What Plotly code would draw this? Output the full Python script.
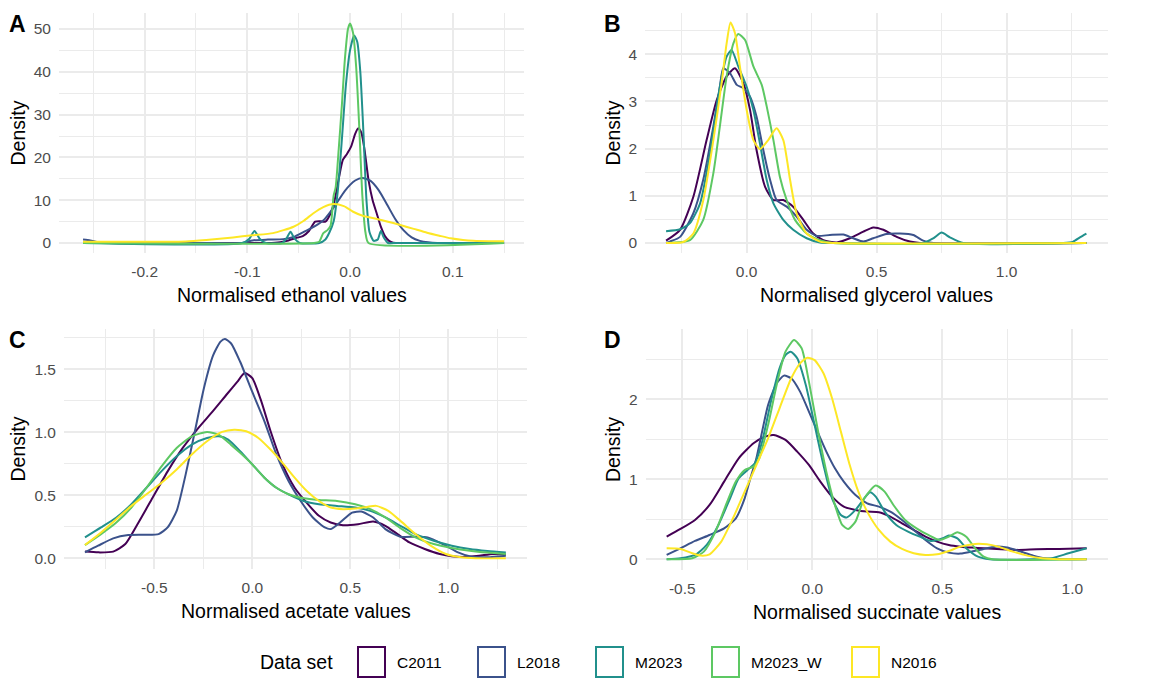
import plotly.graph_objects as go

W, H = 1176, 678
FONT = "Liberation Sans, Arial, Helvetica, sans-serif"

series_names = ["C2011", "L2018", "M2023", "M2023_W", "N2016"]
series_colors = ["#440154", "#3B528B", "#21908C", "#5DC863", "#FDE725"]

# ---------------- Panel A: ethanol ----------------
ethanol_C2011_x = [-0.26, -0.15, -0.08, -0.068, -0.06, -0.052, -0.046, -0.04, -0.034, -0.029, -0.024, -0.019, -0.015, -0.011, -0.007, -0.003, 0.001, 0.005, 0.008, 0.011, 0.014, 0.018, 0.022, 0.026, 0.030, 0.034, 0.038, 0.042, 0.06, 0.15]
ethanol_C2011_y = [0, 0, 0, 0.2, 0.6, 1.2, 1.6, 2.8, 5.0, 5.1, 5.0, 6.9, 10, 15, 19.4, 20.8, 22.5, 25.5, 26.8, 25.8, 22, 14.7, 10, 6.9, 3.8, 1.6, 0.5, 0.05, 0, 0]
ethanol_L2018_x = [-0.26, -0.253, -0.245, -0.235, -0.15, -0.105, -0.095, -0.08, -0.065, -0.055, -0.045, -0.035, -0.025, -0.015, -0.005, 0.005, 0.012, 0.02, 0.028, 0.036, 0.044, 0.052, 0.06, 0.068, 0.076, 0.085, 0.1, 0.15]
ethanol_L2018_y = [0.8, 0.6, 0.2, 0, 0, 0, 0.6, 0.8, 0.9, 1.4, 2.6, 3.8, 5.5, 8.6, 12.2, 14.6, 15.2, 14.5, 12.3, 9.0, 5.6, 3.0, 1.3, 0.5, 0.15, 0, 0, 0]
ethanol_M2023_x = [-0.26, -0.105, -0.098, -0.093, -0.088, -0.082, -0.066, -0.062, -0.058, -0.054, -0.049, -0.03, -0.024, -0.02, -0.016, -0.012, -0.008, -0.004, 0.0, 0.004, 0.007, 0.010, 0.013, 0.016, 0.019, 0.023, 0.027, 0.030, 0.033, 0.037, 0.045, 0.15]
ethanol_M2023_y = [0, 0, 1.0, 2.8, 1.0, 0, 0, 1.0, 2.6, 1.0, 0, 0, 0.8, 2.5, 5, 12, 24, 37, 45, 48.5, 47, 40, 26, 10, 2.5, 0.5, 0.8, 2.8, 1.2, 0, 0, 0]
ethanol_M2023_W_x = [-0.26, -0.035, -0.03, -0.026, -0.022, -0.019, -0.016, -0.014, -0.011, -0.008, -0.005, -0.002, 0.0, 0.003, 0.006, 0.009, 0.012, 0.015, 0.018, 0.15]
ethanol_M2023_W_y = [0, 0, 0.3, 2.3, 3.0, 4.0, 11, 13, 22, 32, 43, 50, 51.3, 49, 41, 27, 11, 2.5, 0, 0]
ethanol_N2016_x = [-0.26, -0.2, -0.16, -0.14, -0.114, -0.095, -0.075, -0.055, -0.045, -0.036, -0.026, -0.016, -0.006, 0.003, 0.013, 0.023, 0.035, 0.049, 0.062, 0.075, 0.087, 0.098, 0.11, 0.12, 0.135, 0.15]
ethanol_N2016_y = [0.3, 0.3, 0.35, 0.7, 1.3, 1.8, 2.3, 3.8, 5.2, 6.9, 8.4, 9.1, 8.6, 7.3, 6.3, 5.8, 5.1, 4.2, 3.3, 2.4, 1.7, 1.1, 0.7, 0.5, 0.4, 0.4]

# ---------------- Panel B: glycerol ----------------
glycerol_C2011_x = [-0.31, -0.256, -0.205, -0.154, -0.115, -0.077, -0.045, -0.013, 0.013, 0.038, 0.071, 0.103, 0.141, 0.179, 0.218, 0.256, 0.295, 0.346, 0.397, 0.449, 0.487, 0.526, 0.577, 0.628, 0.667, 1.307]
glycerol_C2011_y = [0.05, 0.28, 0.98, 2.18, 3.03, 3.53, 3.7, 3.39, 2.82, 1.97, 1.19, 0.91, 0.91, 0.77, 0.49, 0.2, 0.06, 0.01, 0.1, 0.24, 0.33, 0.28, 0.13, 0.03, 0, 0]
glycerol_L2018_x = [-0.31, -0.295, -0.256, -0.205, -0.167, -0.128, -0.103, -0.09, -0.064, -0.038, -0.013, 0.013, 0.038, 0.064, 0.09, 0.115, 0.154, 0.192, 0.231, 0.269, 0.32, 0.372, 0.41, 0.449, 0.487, 0.538, 0.59, 0.641, 0.679, 0.718, 1.307]
glycerol_L2018_y = [0, 0.03, 0.13, 0.63, 1.34, 2.47, 3.31, 3.7, 3.6, 3.35, 3.28, 3.1, 2.68, 1.97, 1.34, 0.91, 0.77, 0.56, 0.28, 0.15, 0.17, 0.18, 0.1, 0.03, 0.1, 0.19, 0.2, 0.17, 0.05, 0, 0]
glycerol_M2023_x = [-0.31, -0.256, -0.218, -0.179, -0.141, -0.103, -0.077, -0.058, -0.032, 0.0, 0.026, 0.051, 0.077, 0.103, 0.141, 0.179, 0.231, 0.282, 0.333, 0.679, 0.718, 0.75, 0.782, 0.833, 1.218, 1.256, 1.282, 1.307]
glycerol_M2023_y = [0.25, 0.29, 0.42, 0.84, 1.9, 3.31, 3.95, 4.09, 3.74, 3.31, 2.82, 2.11, 1.34, 0.84, 0.49, 0.28, 0.1, 0.01, 0, 0, 0.1, 0.22, 0.12, 0, 0, 0.03, 0.12, 0.2]
glycerol_M2023_W_x = [-0.31, -0.218, -0.167, -0.128, -0.103, -0.077, -0.051, -0.032, -0.006, 0.026, 0.058, 0.077, 0.103, 0.128, 0.154, 0.186, 0.231, 0.282, 0.333, 1.307]
glycerol_M2023_W_y = [0, 0.06, 0.49, 1.48, 2.47, 3.53, 4.23, 4.43, 4.3, 3.74, 3.35, 2.9, 2.18, 1.4, 0.91, 0.49, 0.2, 0.06, 0, 0]
glycerol_N2016_x = [-0.31, -0.244, -0.205, -0.167, -0.128, -0.096, -0.077, -0.062, -0.045, -0.026, 0.0, 0.026, 0.051, 0.083, 0.115, 0.141, 0.167, 0.192, 0.231, 0.282, 0.333, 1.307]
glycerol_N2016_y = [0, 0.02, 0.2, 0.9, 2.18, 3.4, 4.23, 4.67, 4.45, 3.74, 2.82, 2.18, 1.99, 2.18, 2.43, 2.18, 1.34, 0.63, 0.2, 0.03, 0, 0]

# ---------------- Panel C: acetate ----------------
acetate_C2011_x = [-0.854, -0.787, -0.71, -0.648, -0.586, -0.509, -0.432, -0.355, -0.278, -0.2, -0.131, -0.077, -0.039, 0.0, 0.046, 0.093, 0.154, 0.216, 0.278, 0.34, 0.40, 0.463, 0.54, 0.617, 0.679, 0.741, 0.802, 0.88, 0.957, 1.018, 1.08, 1.157, 1.23, 1.294]
acetate_C2011_y = [0.053, 0.047, 0.053, 0.113, 0.27, 0.48, 0.69, 0.876, 1.03, 1.17, 1.30, 1.40, 1.47, 1.43, 1.245, 1.01, 0.745, 0.56, 0.44, 0.337, 0.284, 0.263, 0.271, 0.292, 0.258, 0.192, 0.126, 0.074, 0.034, 0.016, 0.01, 0.02, 0.034, 0.03]
acetate_L2018_x = [-0.854, -0.787, -0.71, -0.633, -0.556, -0.478, -0.432, -0.386, -0.34, -0.293, -0.247, -0.2, -0.162, -0.139, -0.108, -0.062, 0.0, 0.062, 0.123, 0.185, 0.247, 0.309, 0.37, 0.401, 0.448, 0.509, 0.556, 0.617, 0.679, 0.756, 0.833, 0.895, 0.972, 1.05, 1.11, 1.2, 1.294]
acetate_L2018_y = [0.047, 0.1, 0.158, 0.184, 0.187, 0.192, 0.245, 0.376, 0.666, 1.008, 1.35, 1.61, 1.72, 1.74, 1.705, 1.56, 1.32, 1.087, 0.824, 0.613, 0.455, 0.324, 0.245, 0.232, 0.284, 0.363, 0.371, 0.324, 0.232, 0.171, 0.171, 0.166, 0.113, 0.047, 0.016, 0.008, 0.02]
acetate_M2023_x = [-0.854, -0.772, -0.694, -0.617, -0.54, -0.463, -0.386, -0.309, -0.231, -0.17, -0.123, -0.062, 0.0, 0.062, 0.123, 0.185, 0.262, 0.34, 0.432, 0.525, 0.602, 0.679, 0.756, 0.833, 0.926, 1.018, 1.11, 1.2, 1.294]
acetate_M2023_y = [0.166, 0.245, 0.324, 0.429, 0.56, 0.692, 0.81, 0.903, 0.955, 0.968, 0.942, 0.85, 0.745, 0.64, 0.56, 0.508, 0.455, 0.429, 0.416, 0.403, 0.376, 0.324, 0.258, 0.192, 0.139, 0.1, 0.074, 0.058, 0.045]
acetate_M2023_W_x = [-0.854, -0.772, -0.694, -0.617, -0.54, -0.463, -0.386, -0.309, -0.231, -0.17, -0.108, -0.062, 0.0, 0.062, 0.123, 0.185, 0.262, 0.34, 0.432, 0.525, 0.602, 0.679, 0.756, 0.833, 0.926, 1.018, 1.11, 1.2, 1.294]
acetate_M2023_W_y = [0.105, 0.192, 0.284, 0.403, 0.56, 0.73, 0.876, 0.968, 1.003, 0.98, 0.9, 0.837, 0.745, 0.64, 0.56, 0.508, 0.476, 0.463, 0.455, 0.429, 0.39, 0.324, 0.24, 0.166, 0.113, 0.082, 0.06, 0.045, 0.034]
acetate_N2016_x = [-0.854, -0.772, -0.694, -0.617, -0.54, -0.463, -0.386, -0.309, -0.231, -0.154, -0.093, -0.031, 0.031, 0.093, 0.154, 0.216, 0.278, 0.34, 0.401, 0.463, 0.525, 0.586, 0.633, 0.694, 0.756, 0.833, 0.91, 0.988, 1.065, 1.14, 1.294]
acetate_N2016_y = [0.105, 0.205, 0.31, 0.416, 0.508, 0.6, 0.705, 0.824, 0.929, 1.003, 1.021, 1.008, 0.955, 0.863, 0.758, 0.64, 0.534, 0.455, 0.403, 0.39, 0.395, 0.408, 0.416, 0.376, 0.297, 0.192, 0.1, 0.034, 0.008, 0, 0]

# ---------------- Panel D: succinate ----------------
succinate_C2011_x = [-0.56, -0.507, -0.451, -0.395, -0.339, -0.283, -0.226, -0.182, -0.148, -0.103, -0.058, -0.013, 0.031, 0.076, 0.121, 0.166, 0.211, 0.256, 0.3, 0.345, 0.39, 0.435, 0.48, 0.525, 0.57, 0.614, 0.659, 0.726, 0.794, 0.861, 0.95, 1.055]
succinate_C2011_y = [0.283, 0.379, 0.492, 0.679, 0.971, 1.263, 1.45, 1.533, 1.554, 1.492, 1.346, 1.179, 0.971, 0.783, 0.658, 0.617, 0.596, 0.5875, 0.533, 0.45, 0.367, 0.283, 0.221, 0.179, 0.158, 0.146, 0.1375, 0.125, 0.117, 0.125, 0.13, 0.1375]
succinate_L2018_x = [-0.56, -0.507, -0.451, -0.395, -0.339, -0.294, -0.26, -0.238, -0.215, -0.193, -0.17, -0.137, -0.109, -0.081, -0.047, -0.013, 0.02, 0.054, 0.087, 0.121, 0.166, 0.211, 0.256, 0.3, 0.345, 0.39, 0.435, 0.48, 0.525, 0.57, 0.614, 0.659, 0.704, 0.749, 0.794, 0.85, 0.895, 0.95, 1.055]
succinate_L2018_y = [0.054, 0.1375, 0.229, 0.304, 0.3875, 0.5125, 0.7625, 1.0125, 1.2625, 1.596, 1.929, 2.2, 2.296, 2.2625, 2.096, 1.846, 1.596, 1.346, 1.1375, 0.971, 0.804, 0.7, 0.658, 0.596, 0.492, 0.367, 0.242, 0.1375, 0.083, 0.071, 0.096, 0.129, 0.158, 0.146, 0.104, 0.046, 0.0125, 0.003, 0]
succinate_M2023_x = [-0.56, -0.507, -0.451, -0.406, -0.361, -0.316, -0.283, -0.249, -0.221, -0.193, -0.159, -0.126, -0.103, -0.083, -0.058, -0.025, 0.009, 0.043, 0.076, 0.11, 0.132, 0.166, 0.2, 0.222, 0.244, 0.278, 0.323, 0.368, 0.413, 0.457, 0.502, 0.525, 0.558, 0.592, 0.637, 0.682, 0.85, 0.92, 0.985, 1.055]
succinate_M2023_y = [0, 0.0125, 0.054, 0.179, 0.429, 0.7625, 1.0125, 1.117, 1.2, 1.47, 1.971, 2.3875, 2.554, 2.596, 2.5125, 2.179, 1.679, 1.179, 0.7625, 0.554, 0.521, 0.617, 0.7625, 0.8375, 0.783, 0.596, 0.429, 0.346, 0.283, 0.229, 0.2625, 0.296, 0.2625, 0.1375, 0.033, 0, 0, 0.0125, 0.075, 0.1375]
succinate_M2023_W_x = [-0.56, -0.462, -0.417, -0.372, -0.327, -0.294, -0.26, -0.226, -0.204, -0.17, -0.137, -0.103, -0.07, -0.041, -0.013, 0.02, 0.054, 0.087, 0.115, 0.138, 0.166, 0.2, 0.244, 0.278, 0.312, 0.357, 0.401, 0.446, 0.49, 0.525, 0.558, 0.592, 0.626, 0.659, 0.693, 1.055]
succinate_M2023_W_y = [0, 0.0125, 0.096, 0.346, 0.721, 0.971, 1.117, 1.158, 1.2625, 1.679, 2.179, 2.596, 2.74, 2.6375, 2.221, 1.6375, 1.096, 0.679, 0.429, 0.379, 0.471, 0.7625, 0.921, 0.846, 0.679, 0.492, 0.3875, 0.304, 0.242, 0.283, 0.3375, 0.283, 0.1375, 0.033, 0, 0]
succinate_N2016_x = [-0.56, -0.507, -0.462, -0.428, -0.395, -0.35, -0.305, -0.26, -0.215, -0.17, -0.126, -0.081, -0.047, -0.019, 0.009, 0.043, 0.076, 0.11, 0.144, 0.177, 0.211, 0.256, 0.3, 0.345, 0.39, 0.435, 0.48, 0.525, 0.57, 0.626, 0.671, 0.715, 0.771, 0.827, 0.883, 0.95, 1.055]
succinate_N2016_y = [0.1375, 0.129, 0.075, 0.046, 0.0625, 0.221, 0.5125, 0.846, 1.179, 1.5125, 1.8875, 2.2625, 2.45, 2.52, 2.49, 2.325, 2.0125, 1.596, 1.179, 0.846, 0.596, 0.367, 0.221, 0.129, 0.075, 0.054, 0.0625, 0.104, 0.158, 0.192, 0.1875, 0.158, 0.096, 0.046, 0.0125, 0, 0]

# tick labels
ethanol_xticks = [-0.2, -0.1, 0.0, 0.1]
ethanol_xlabels = ["-0.2", "-0.1", "0.0", "0.1"]
ethanol_yticks = [0, 10, 20, 30, 40, 50]
glycerol_xticks = [0.0, 0.5, 1.0]
glycerol_xlabels = ["0.0", "0.5", "1.0"]
glycerol_yticks = [0, 1, 2, 3, 4]
acetate_xticks = [-0.5, 0.0, 0.5, 1.0]
acetate_xlabels = ["-0.5", "0.0", "0.5", "1.0"]
acetate_yticks = [0.0, 0.5, 1.0, 1.5]
acetate_ylabels = ["0.0", "0.5", "1.0", "1.5"]
succinate_xticks = [-0.5, 0.0, 0.5, 1.0]
succinate_xlabels = ["-0.5", "0.0", "0.5", "1.0"]
succinate_yticks = [0, 1, 2]

panels = [
    dict(tag="A", title="Normalised ethanol values", ax="", 
         data=[(ethanol_C2011_x, ethanol_C2011_y), (ethanol_L2018_x, ethanol_L2018_y), (ethanol_M2023_x, ethanol_M2023_y), (ethanol_M2023_W_x, ethanol_M2023_W_y), (ethanol_N2016_x, ethanol_N2016_y)],
         xpx=(59, 524), ypx=(13, 253), xr=(-0.2834, 0.1694), yr=(-2.34, 53.74),
         xt=ethanol_xticks, xl=ethanol_xlabels, yt=ethanol_yticks, yl=[str(v) for v in ethanol_yticks],
         xminor=0.05, yminor=5),
    dict(tag="B", title="Normalised glycerol values", ax="2",
         data=[(glycerol_C2011_x, glycerol_C2011_y), (glycerol_L2018_x, glycerol_L2018_y), (glycerol_M2023_x, glycerol_M2023_y), (glycerol_M2023_W_x, glycerol_M2023_W_y), (glycerol_N2016_x, glycerol_N2016_y)],
         xpx=(645, 1108), ypx=(13, 253), xr=(-0.391, 1.390), yr=(-0.212, 4.873),
         xt=glycerol_xticks, xl=glycerol_xlabels, yt=glycerol_yticks, yl=[str(v) for v in glycerol_yticks],
         xminor=0.25, yminor=0.5),
    dict(tag="C", title="Normalised acetate values", ax="3",
         data=[(acetate_C2011_x, acetate_C2011_y), (acetate_L2018_x, acetate_L2018_y), (acetate_M2023_x, acetate_M2023_y), (acetate_M2023_W_x, acetate_M2023_W_y), (acetate_N2016_x, acetate_N2016_y)],
         xpx=(64, 527), ypx=(329, 569), xr=(-0.961, 1.402), yr=(-0.085, 1.820),
         xt=acetate_xticks, xl=acetate_xlabels, yt=acetate_yticks, yl=acetate_ylabels,
         xminor=0.25, yminor=0.25),
    dict(tag="D", title="Normalised succinate values", ax="4",
         data=[(succinate_C2011_x, succinate_C2011_y), (succinate_L2018_x, succinate_L2018_y), (succinate_M2023_x, succinate_M2023_y), (succinate_M2023_W_x, succinate_M2023_W_y), (succinate_N2016_x, succinate_N2016_y)],
         xpx=(645.6, 1107.7), ypx=(329, 570), xr=(-0.641, 1.136), yr=(-0.134, 2.879),
         xt=succinate_xticks, xl=succinate_xlabels, yt=succinate_yticks, yl=[str(v) for v in succinate_yticks],
         xminor=0.25, yminor=0.5),
]

GRID = "#EBEBEB"
TICKFONT = dict(family=FONT, size=15.5, color="#4D4D4D")
fig = go.Figure()
annotations = []
shapes = []
layout = {}

for p in panels:
    for (xs, ys), name, col in zip(p["data"], series_names, series_colors):
        fig.add_trace(go.Scatter(x=xs, y=ys, mode="lines", name=name, showlegend=False,
                                 line=dict(color=col, width=2, shape="spline", smoothing=0.6),
                                 xaxis="x" + p["ax"], yaxis="y" + p["ax"], hoverinfo="skip"))
    x0, x1 = p["xpx"]
    y0, y1 = p["ypx"]
    layout["xaxis" + p["ax"]] = dict(
        domain=[x0 / W, x1 / W], range=list(p["xr"]), anchor="y" + p["ax"],
        tickmode="array", tickvals=p["xt"], ticktext=p["xl"], tickfont=TICKFONT,
        showgrid=True, gridcolor=GRID, gridwidth=1.6, zeroline=False, showline=False,
        ticks="", ticklabelstandoff=7,
        minor=dict(tick0=0, dtick=p["xminor"], showgrid=True, gridcolor=GRID, gridwidth=0.8),
    )
    layout["yaxis" + p["ax"]] = dict(
        domain=[1 - y1 / H, 1 - y0 / H], range=list(p["yr"]), anchor="x" + p["ax"],
        tickmode="array", tickvals=p["yt"], ticktext=p["yl"], tickfont=TICKFONT,
        showgrid=True, gridcolor=GRID, gridwidth=1.6, zeroline=False, showline=False,
        ticks="", ticklabelstandoff=7,
        minor=dict(tick0=0, dtick=p["yminor"], showgrid=True, gridcolor=GRID, gridwidth=0.8),
    )
    cx = (x0 + x1) / 2
    cy = (y0 + y1) / 2
    annotations.append(dict(text=p["title"], x=cx / W, y=1 - (y1 + 42) / H, xref="paper", yref="paper",
                            xanchor="center", yanchor="middle", showarrow=False,
                            font=dict(family=FONT, size=19.5, color="#000000")))
    dx = 17.5 if x0 < 300 else 612.5
    annotations.append(dict(text="Density", x=dx / W, y=1 - cy / H, xref="paper", yref="paper",
                            xanchor="center", yanchor="middle", showarrow=False, textangle=-90,
                            font=dict(family=FONT, size=19.5, color="#000000")))
    annotations.append(dict(text="<b>" + p["tag"] + "</b>", x=dx / W, y=1 - (y0 + 11) / H,
                            xref="paper", yref="paper", xanchor="center", yanchor="middle",
                            showarrow=False, font=dict(family=FONT, size=23, color="#000000")))

# legend drawn by hand (ggplot style outlined keys)
legend_title_right = 335
legend_key_left = [358, 478, 596, 712, 852]
legend_cy = 662
annotations.append(dict(text="Data set", x=legend_title_right / W, y=1 - legend_cy / H, xref="paper", yref="paper",
                        xanchor="right", yanchor="middle", showarrow=False,
                        font=dict(family=FONT, size=19.5, color="#000000")))
for left, name, col in zip(legend_key_left, series_names, series_colors):
    shapes.append(dict(type="rect", xref="paper", yref="paper",
                       x0=left / W, x1=(left + 27) / W, y0=1 - (legend_cy + 15) / H, y1=1 - (legend_cy - 15) / H,
                       line=dict(color=col, width=2), fillcolor="white"))
    annotations.append(dict(text=name, x=(left + 37) / W, y=1 - legend_cy / H, xref="paper", yref="paper",
                            xanchor="left", yanchor="middle", showarrow=False,
                            font=dict(family=FONT, size=15.5, color="#000000")))

fig.update_layout(width=W, height=H, margin=dict(l=0, r=0, t=0, b=0),
                  paper_bgcolor="white", plot_bgcolor="white", showlegend=False,
                  annotations=annotations, shapes=shapes, **layout)
fig.write_html("out.html")
